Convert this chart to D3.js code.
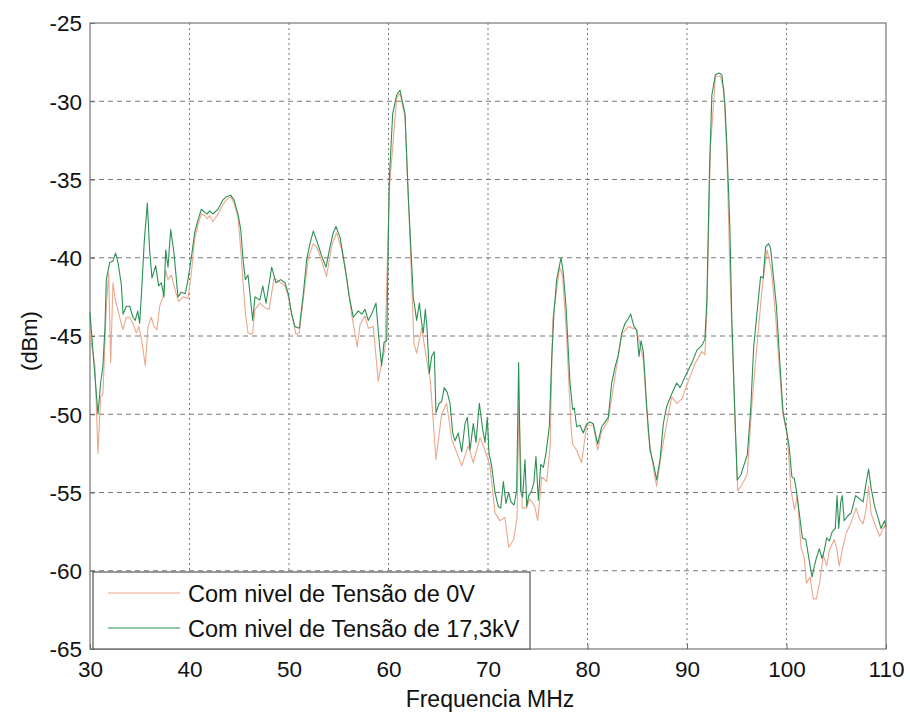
<!DOCTYPE html>
<html>
<head>
  <meta charset="utf-8">
  <script src="https://d3js.org/d3.v7.min.js"></script>
  <style>
    body { margin: 0; background: #fff; }
    text { font-family: "Liberation Sans", Arial, sans-serif; fill: #111; }
  </style>
</head>
<body>
<script>
  "use strict";

  // tick values
  var xTicks = [30, 40, 50, 60, 70, 80, 90, 100, 110];
  var yTicks = [-25, -30, -35, -40, -45, -50, -55, -60, -65];

  // series: Com nivel de Tensão de 0V
  var freq0V = [30.0,30.1,30.5,30.8,31.07,31.3,31.64,31.88,32.08,32.31,32.55,32.98,33.3,33.65,33.99,34.32,34.65,34.9,35.2,35.56,35.83,36.16,36.45,36.73,37.0,37.34,37.6,37.84,38.17,38.57,38.9,39.35,39.85,40.18,40.52,40.85,41.19,41.53,41.79,42.03,42.36,42.86,43.37,43.7,44.14,44.47,44.87,45.15,45.38,45.61,45.88,46.21,46.35,46.58,47.08,47.6,48.0,48.5,49.17,49.6,49.93,50.27,50.7,51.04,51.44,51.95,52.44,52.78,53.29,53.77,54.3,54.77,55.3,55.8,56.29,56.86,57.13,57.64,57.97,58.47,58.97,59.31,59.65,60.08,60.82,61.16,61.66,62.16,62.56,62.83,63.34,63.9,64.2,64.77,65.34,65.84,66.35,67.36,68.02,68.52,69.2,69.7,70.2,70.7,71.2,71.7,72.08,72.58,72.92,73.1,73.45,73.85,74.2,74.7,75.0,75.4,75.9,76.25,76.5,77.2,77.5,77.9,78.35,78.51,78.91,79.4,79.92,80.58,81.02,81.42,82.09,82.76,83.44,84.1,84.94,85.61,86.11,86.61,86.95,87.45,87.96,88.46,89.0,89.5,90.0,90.85,91.5,91.8,92.0,92.35,92.86,93.35,93.7,94.0,94.35,94.85,95.1,95.7,96.06,96.55,97.55,98.05,98.5,98.9,99.6,100.1,100.44,100.8,101.1,101.45,101.8,102.0,102.36,102.7,103.0,103.37,103.7,104.04,104.3,104.8,105.08,105.3,105.6,106.0,106.5,107.0,107.35,107.7,108.0,108.25,108.5,108.86,109.36,109.86,110.0];
  var dbm0V = [-44.5,-45.3,-46.9,-52.5,-48.9,-48.7,-43.1,-41.0,-46.7,-41.6,-42.7,-43.8,-44.6,-43.8,-43.8,-44.2,-44.8,-44.4,-45.3,-46.9,-44.4,-43.8,-44.4,-44.6,-43.1,-42.5,-40.8,-41.4,-41.1,-42.1,-42.8,-42.5,-42.6,-41.0,-38.8,-37.9,-37.2,-37.3,-37.5,-37.3,-37.7,-37.2,-36.6,-36.3,-36.1,-36.5,-37.4,-39.5,-41.5,-43.5,-44.8,-44.9,-44.8,-43.3,-42.9,-43.2,-43.3,-41.3,-41.6,-41.8,-42.5,-43.6,-44.9,-44.8,-42.6,-40.0,-39.1,-39.3,-40.2,-41.2,-39.2,-38.4,-39.5,-41.3,-43.6,-45.7,-44.3,-43.7,-44.5,-44.4,-47.9,-46.7,-45.8,-35.6,-29.8,-29.5,-31.0,-38.8,-45.5,-46.1,-44.5,-46.8,-47.8,-52.9,-50.0,-49.3,-51.6,-53.3,-52.0,-53.1,-51.5,-52.3,-53.3,-56.3,-56.8,-56.6,-58.5,-58.0,-56.6,-49.5,-56.0,-56.0,-55.4,-55.9,-56.8,-54.0,-54.3,-52.0,-44.0,-40.6,-41.2,-45.0,-50.9,-51.9,-52.3,-53.1,-50.7,-50.7,-52.3,-51.1,-50.4,-47.6,-44.9,-44.4,-44.6,-46.5,-51.2,-53.4,-54.6,-52.4,-50.6,-48.9,-49.3,-49.0,-48.1,-46.7,-46.0,-46.2,-43.5,-33.0,-28.4,-28.4,-29.2,-33.3,-41.6,-51.0,-54.9,-54.3,-53.8,-49.1,-41.9,-39.5,-40.9,-43.7,-49.8,-51.5,-54.8,-56.1,-55.2,-58.5,-59.2,-60.8,-60.4,-61.8,-61.8,-60.6,-59.0,-59.7,-58.7,-58.0,-58.7,-59.7,-58.7,-57.6,-56.9,-56.0,-56.7,-57.0,-56.1,-54.6,-56.3,-57.0,-57.8,-57.1,-57.5];

  // series: Com nivel de Tensão de 17,3kV
  var freq17kV = [30.0,30.3,30.8,31.07,31.3,31.5,31.64,31.98,32.31,32.58,32.81,33.15,33.32,33.65,33.99,34.32,34.55,34.8,34.99,35.2,35.45,35.76,36.0,36.23,36.6,36.9,37.17,37.44,37.61,37.84,38.11,38.44,38.84,39.18,39.58,39.85,40.18,40.52,40.85,41.19,41.53,41.79,42.03,42.36,42.86,43.37,43.7,44.14,44.47,44.87,45.15,45.38,45.61,45.88,46.08,46.35,46.58,47.08,47.36,47.69,48.26,48.69,49.17,49.6,49.93,50.27,50.6,51.04,51.44,51.78,52.11,52.44,52.78,53.29,53.72,54.12,54.45,54.72,55.13,55.63,56.06,56.46,56.96,57.31,57.64,57.97,58.31,58.74,59.08,59.31,59.55,59.82,60.08,60.42,60.82,61.16,61.66,61.99,62.33,62.49,62.83,63.1,63.34,63.5,63.7,63.87,64.1,64.34,64.6,64.77,65.1,65.34,65.6,65.9,66.18,66.45,66.68,67.01,67.36,67.69,67.92,68.19,68.52,68.79,69.13,69.47,69.7,69.93,70.1,70.37,70.7,71.04,71.28,71.54,71.81,72.08,72.31,72.61,72.88,73.08,73.28,73.48,73.72,73.89,74.09,74.39,74.62,74.82,75.06,75.3,75.56,75.83,76.16,76.4,76.63,76.9,77.34,77.57,77.84,78.24,78.51,78.67,78.91,79.25,79.58,79.92,80.25,80.58,81.02,81.42,81.76,82.09,82.43,82.76,83.1,83.44,83.77,84.1,84.34,84.67,84.94,85.18,85.38,85.61,85.95,86.28,86.61,86.95,87.29,87.62,87.96,88.46,88.96,89.3,89.8,90.5,91.0,91.5,91.8,92.0,92.26,92.5,92.86,93.2,93.5,93.8,94.0,94.3,94.5,94.8,95.05,95.4,95.7,96.06,96.4,96.7,97.07,97.4,97.65,97.9,98.2,98.4,98.65,98.99,99.3,99.66,100.0,100.27,100.54,100.78,101.0,101.28,101.6,101.94,102.3,102.56,102.8,103.0,103.3,103.57,103.8,104.04,104.3,104.6,104.9,105.08,105.25,105.45,105.6,105.8,106.16,106.5,106.94,107.35,107.7,108.0,108.25,108.5,108.86,109.2,109.5,109.86,110.0];
  var dbm17kV = [-43.5,-46.0,-50.0,-48.0,-46.9,-44.5,-41.4,-40.3,-40.2,-39.7,-40.3,-41.7,-43.6,-43.1,-43.1,-43.8,-44.0,-43.4,-44.2,-42.0,-39.0,-36.5,-39.6,-41.3,-40.5,-41.8,-41.6,-42.5,-39.5,-40.6,-38.2,-39.7,-42.5,-42.2,-42.3,-41.4,-40.0,-38.4,-37.6,-36.9,-37.1,-37.2,-37.0,-37.2,-36.9,-36.3,-36.1,-36.0,-36.3,-37.2,-38.2,-40.1,-41.4,-41.1,-42.3,-44.0,-42.5,-42.7,-41.8,-42.9,-40.6,-41.6,-41.4,-41.6,-42.3,-43.6,-44.4,-44.5,-42.3,-40.1,-39.1,-38.3,-38.9,-39.9,-40.6,-39.3,-38.4,-38.0,-38.7,-40.6,-42.5,-43.8,-43.4,-43.6,-43.3,-44.0,-43.6,-42.9,-45.5,-46.9,-45.4,-45.3,-35.0,-30.8,-29.6,-29.3,-30.8,-36.1,-40.4,-42.5,-44.0,-42.9,-44.2,-44.8,-43.3,-44.5,-47.4,-46.3,-46.0,-49.9,-49.3,-49.2,-48.3,-48.6,-49.3,-51.2,-51.7,-51.2,-52.4,-50.6,-50.2,-52.3,-50.6,-51.8,-49.3,-51.0,-51.8,-50.2,-52.5,-53.3,-55.0,-55.9,-56.0,-54.3,-55.7,-55.0,-55.6,-55.8,-54.9,-46.7,-54.9,-55.3,-52.9,-55.9,-55.2,-54.9,-54.3,-52.7,-55.5,-53.2,-53.4,-52.5,-50.8,-46.5,-43.5,-41.4,-40.0,-41.0,-43.1,-48.0,-49.7,-49.6,-50.8,-50.7,-51.2,-50.6,-50.5,-50.6,-51.9,-50.8,-50.5,-50.2,-48.0,-47.0,-46.2,-44.8,-44.2,-43.9,-43.6,-44.4,-44.6,-46.3,-45.3,-46.0,-49.5,-52.3,-53.1,-54.2,-52.9,-50.6,-49.5,-48.7,-48.0,-48.3,-47.6,-46.7,-45.9,-45.6,-45.2,-42.6,-34.4,-29.6,-28.3,-28.2,-28.3,-30.1,-32.7,-37.9,-43.8,-49.7,-54.2,-53.9,-53.3,-52.6,-49.7,-45.7,-43.3,-41.2,-41.3,-39.3,-39.1,-39.4,-41.0,-43.1,-46.4,-49.9,-51.0,-52.1,-54.0,-54.1,-54.9,-56.3,-57.9,-58.0,-59.4,-60.4,-59.7,-59.2,-58.6,-59.2,-58.7,-57.9,-58.1,-57.5,-57.3,-55.2,-57.3,-55.6,-55.2,-56.8,-56.5,-56.3,-55.2,-55.4,-55.6,-54.4,-53.5,-54.7,-55.9,-56.6,-57.3,-56.8,-57.2];

  var seriesNames = ["Com nivel de Tensão de 0V", "Com nivel de Tensão de 17,3kV"];
  var seriesColors = ["#eaa88c", "#2e8f55"];

  var W = 910, H = 713;
  var plotLeft = 90, plotTop = 23, plotRight = 886, plotBottom = 649;

  var svg = d3.select("body").append("svg")
      .attr("width", W)
      .attr("height", H);

  var x = d3.scaleLinear().domain([30, 110]).range([plotLeft, plotRight]);
  var y = d3.scaleLinear().domain([-65, -25]).range([plotBottom, plotTop]);

  // grid
  svg.append("g").selectAll("line")
    .data(xTicks.slice(1, -1))
    .enter().append("line")
      .attr("x1", d => x(d)).attr("x2", d => x(d))
      .attr("y1", plotTop).attr("y2", plotBottom)
      .attr("stroke", "#777").attr("stroke-width", 1)
      .attr("stroke-dasharray", "2,3");

  svg.append("g").selectAll("line")
    .data(yTicks.slice(1, -1))
    .enter().append("line")
      .attr("x1", plotLeft).attr("x2", plotRight)
      .attr("y1", d => y(d)).attr("y2", d => y(d))
      .attr("stroke", "#777").attr("stroke-width", 1)
      .attr("stroke-dasharray", "5,4");

  // axes (plain hyphen minus, like the original)
  var xAxis = svg.append("g")
      .attr("transform", "translate(0," + plotBottom + ")")
      .call(d3.axisBottom(x).tickValues(xTicks).tickSize(-5)
        .tickFormat(d => String(d)));
  var yAxis = svg.append("g")
      .attr("transform", "translate(" + plotLeft + ",0)")
      .call(d3.axisLeft(y).tickValues(yTicks).tickSize(-5).tickPadding(8)
        .tickFormat(d => String(d)));

  [xAxis, yAxis].forEach(function (g) {
    g.select(".domain").remove();
    g.selectAll("line").attr("stroke", "#666");
    g.selectAll("text")
      .style("font-family", "'Liberation Sans', Arial, sans-serif")
      .style("font-size", "22.5px")
      .attr("fill", "#111");
  });
  xAxis.selectAll("text").attr("y", 28).attr("dy", 0);
  yAxis.selectAll("text").attr("dy", "0.35em");

  // frame
  svg.append("rect")
      .attr("x", plotLeft).attr("y", plotTop)
      .attr("width", plotRight - plotLeft).attr("height", plotBottom - plotTop)
      .attr("fill", "none").attr("stroke", "#777").attr("stroke-width", 1.2);

  // lines
  var line = d3.line().x(d => x(d[0])).y(d => y(d[1]));
  var series = [d3.zip(freq0V, dbm0V), d3.zip(freq17kV, dbm17kV)];

  svg.append("g").selectAll("path")
    .data(series)
    .enter().append("path")
      .attr("d", line)
      .attr("fill", "none")
      .attr("stroke", (d, i) => seriesColors[i])
      .attr("stroke-width", 1.1)
      .attr("stroke-linejoin", "round");

  // legend
  var lg = svg.append("g").attr("transform", "translate(93,572)");
  lg.append("rect")
      .attr("width", 437).attr("height", 77)
      .attr("fill", "#fff").attr("stroke", "#555").attr("stroke-width", 1.2);
  seriesNames.forEach(function (name, i) {
    var cy = 21 + i * 35;
    lg.append("line")
        .attr("x1", 15).attr("x2", 87)
        .attr("y1", cy).attr("y2", cy)
        .attr("stroke", seriesColors[i]).attr("stroke-width", 1.2);
    lg.append("text")
        .attr("x", 95).attr("y", cy + 8.5)
        .style("font-size", "23.5px")
        .text(name);
  });

  // axis labels
  svg.append("text")
      .attr("x", 490).attr("y", 707)
      .attr("text-anchor", "middle")
      .style("font-size", "23px")
      .text("Frequencia MHz");

  svg.append("text")
      .attr("transform", "translate(29,341) rotate(-90)")
      .attr("text-anchor", "middle")
      .attr("dy", "0.35em")
      .style("font-size", "22px")
      .text("(dBm)");
</script>
</body>
</html>
